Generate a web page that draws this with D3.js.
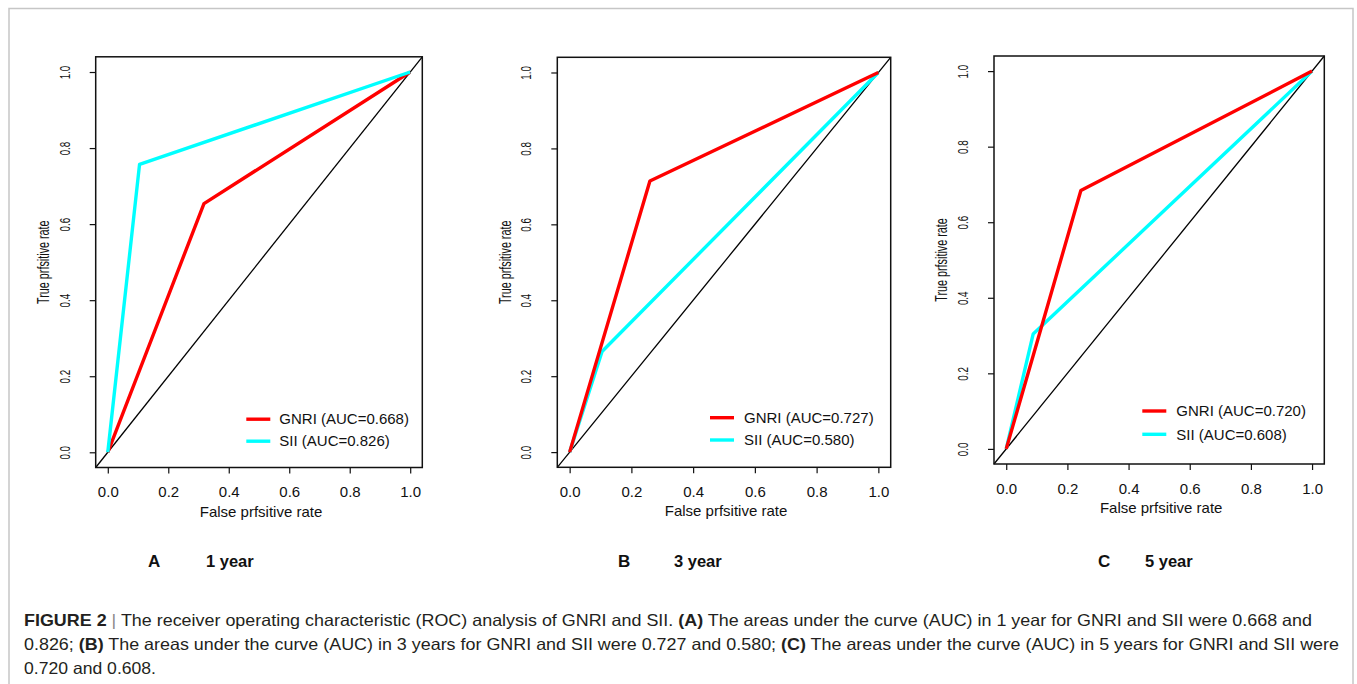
<!DOCTYPE html>
<html>
<head>
<meta charset="utf-8">
<script src="https://cdn.jsdelivr.net/npm/d3@7"></script>
<style>
  body { margin: 0; background: #fff; }
  svg { display: block; }
  text { font-family: "Liberation Sans", Arial, Helvetica, sans-serif; }
</style>
</head>
<body>
<svg id="fig" width="1357" height="684"></svg>
<script>
// ROC analysis of GNRI and SII at 1, 3 and 5 years
const panelLetters = ["A", "B", "C"];
const panelYears = ["1 year", "3 year", "5 year"];
const gnriFpr = [0.318, 0.260, 0.244];
const gnriTpr = [0.654, 0.714, 0.684];
const siiFpr = [0.105, 0.105, 0.088];
const siiTpr = [0.757, 0.265, 0.304];
const gnriAuc = ["0.668", "0.727", "0.720"];
const siiAuc = ["0.826", "0.580", "0.608"];
const seriesNames = ["GNRI", "SII"];
const seriesColors = ["#ff0000", "#00ffff"];
const axisTicks = [0, 0.2, 0.4, 0.6, 0.8, 1.0];
const axisDomain = [-0.04, 1.04];

// plot boxes and offsets for each panel
const frames = [
  { l: 95.7, r: 422.3, t: 56.8, b: 467.5, letterX: 148, yearX: 206,
    leg: { line: -176, text: -143, r1: -48.3, r2: -26.3 } },
  { l: 557.3, r: 890.7, t: 57.3, b: 467.3, letterX: 618, yearX: 674,
    leg: { line: -180.7, text: -146.7, r1: -49.6, r2: -27.3 } },
  { l: 994, r: 1324.3, t: 56, b: 464, letterX: 1098, yearX: 1145,
    leg: { line: -182, text: -148, r1: -53, r2: -29.7 } }
];

const svg = d3.select("#fig");

// light grey page frame
svg.append("path")
  .attr("d", "M9,684 V8.5 H1353 V684")
  .attr("fill", "none")
  .attr("stroke", "#c6c6c6")
  .attr("stroke-width", 1.5);

const fmt = d3.format(".1f");

frames.forEach((f, i) => {
  const x = d3.scaleLinear().domain(axisDomain).range([f.l, f.r]);
  const y = d3.scaleLinear().domain(axisDomain).range([f.b, f.t]);
  const g = svg.append("g");

  // x axis
  const xa = g.append("g")
    .attr("transform", `translate(0,${f.b})`)
    .call(d3.axisBottom(x).tickValues(axisTicks).tickFormat(fmt)
      .tickSize(6).tickSizeOuter(0).tickPadding(13));
  xa.select(".domain").remove();
  xa.selectAll(".tick line").attr("stroke", "#111").attr("stroke-width", 1.2);
  xa.selectAll(".tick text").attr("fill", "#111").attr("font-size", 15).attr("font-family", null);

  // y axis
  const ya = g.append("g")
    .attr("transform", `translate(${f.l},0)`)
    .call(d3.axisLeft(y).tickValues(axisTicks).tickFormat(fmt)
      .tickSize(6).tickSizeOuter(0));
  ya.select(".domain").remove();
  ya.selectAll(".tick line").attr("stroke", "#111").attr("stroke-width", 1.2);
  ya.selectAll(".tick text")
    .attr("x", null).attr("dy", "0.35em")
    .attr("text-anchor", "middle")
    .attr("transform", "translate(-31,0) scale(1.45,1) rotate(-90)")
    .attr("fill", "#111").attr("font-size", 9.8).attr("font-family", null);

  // axis titles
  g.append("text")
    .attr("x", (f.l + f.r) / 2 + 2).attr("y", f.b + 49)
    .attr("text-anchor", "middle").attr("font-size", 15).attr("fill", "#111")
    .text("False prfsitive rate");
  g.append("text")
    .attr("transform", `translate(${f.l - 52},${(f.t + f.b) / 2}) scale(1.45,1) rotate(-90)`)
    .attr("dy", "0.35em")
    .attr("text-anchor", "middle").attr("font-size", 10.8).attr("fill", "#111")
    .text("True prfsitive rate");

  // chance diagonal, clipped to the plot box
  g.append("line")
    .attr("x1", x(axisDomain[0])).attr("y1", y(axisDomain[0]))
    .attr("x2", x(axisDomain[1])).attr("y2", y(axisDomain[1]))
    .attr("stroke", "#000").attr("stroke-width", 1.3);

  // ROC curves
  const line = d3.line().x(d => x(d[0])).y(d => y(d[1]));
  const curves = [
    [[0, 0], [gnriFpr[i], gnriTpr[i]], [1, 1]],
    [[0, 0], [siiFpr[i], siiTpr[i]], [1, 1]]
  ];
  // SII drawn first, GNRI on top only where panel A has SII above
  const order = i === 0 ? [0, 1] : [1, 0];
  order.forEach(k => {
    g.append("path")
      .attr("d", line(curves[k]))
      .attr("fill", "none")
      .attr("stroke", seriesColors[k])
      .attr("stroke-width", 3.4)
      .attr("stroke-linejoin", "round");
  });

  // plot box
  g.append("rect")
    .attr("x", f.l).attr("y", f.t)
    .attr("width", f.r - f.l).attr("height", f.b - f.t)
    .attr("fill", "none").attr("stroke", "#111").attr("stroke-width", 1.5);

  // legend
  const aucs = [gnriAuc[i], siiAuc[i]];
  [f.leg.r1, f.leg.r2].forEach((dy, k) => {
    const ly = f.b + dy;
    g.append("line")
      .attr("x1", f.r + f.leg.line).attr("x2", f.r + f.leg.line + 24)
      .attr("y1", ly).attr("y2", ly)
      .attr("stroke", seriesColors[k]).attr("stroke-width", 3.4);
    g.append("text")
      .attr("x", f.r + f.leg.text).attr("y", ly).attr("dy", "0.35em")
      .attr("font-size", 15).attr("fill", "#111")
      .text(`${seriesNames[k]} (AUC=${aucs[k]})`);
  });

  // panel label
  svg.append("text")
    .attr("x", f.letterX).attr("y", 567)
    .attr("font-size", 17).attr("font-weight", "bold").attr("fill", "#111")
    .text(panelLetters[i]);
  svg.append("text")
    .attr("x", f.yearX).attr("y", 567)
    .attr("font-size", 16.5).attr("font-weight", "bold").attr("fill", "#111")
    .text(panelYears[i]);
});

// figure caption
const captionLines = [
  { y: 626, len: 1288, parts: [
    ["FIGURE 2", "b"], [" | ", "sep"],
    ["The receiver operating characteristic (ROC) analysis of GNRI and SII. ", ""],
    ["(A)", "b"],
    [" The areas under the curve (AUC) in 1 year for GNRI and SII were 0.668 and", ""] ] },
  { y: 650, len: 1315, parts: [
    ["0.826; ", ""], ["(B)", "b"],
    [" The areas under the curve (AUC) in 3 years for GNRI and SII were 0.727 and 0.580; ", ""],
    ["(C)", "b"],
    [" The areas under the curve (AUC) in 5 years for GNRI and SII were", ""] ] },
  { y: 674, len: 132, parts: [["0.720 and 0.608.", ""]] }
];
captionLines.forEach(c => {
  const t = svg.append("text")
    .attr("x", 24).attr("y", c.y)
    .attr("font-size", 16.5).attr("fill", "#231f20")
    .attr("textLength", c.len).attr("lengthAdjust", "spacingAndGlyphs");
  c.parts.forEach(([s, kind]) => {
    const ts = t.append("tspan").text(s);
    if (kind === "b") ts.attr("font-weight", "bold");
    if (kind === "sep") ts.attr("fill", "#8a8a8a");
  });
});
</script>
</body>
</html>
